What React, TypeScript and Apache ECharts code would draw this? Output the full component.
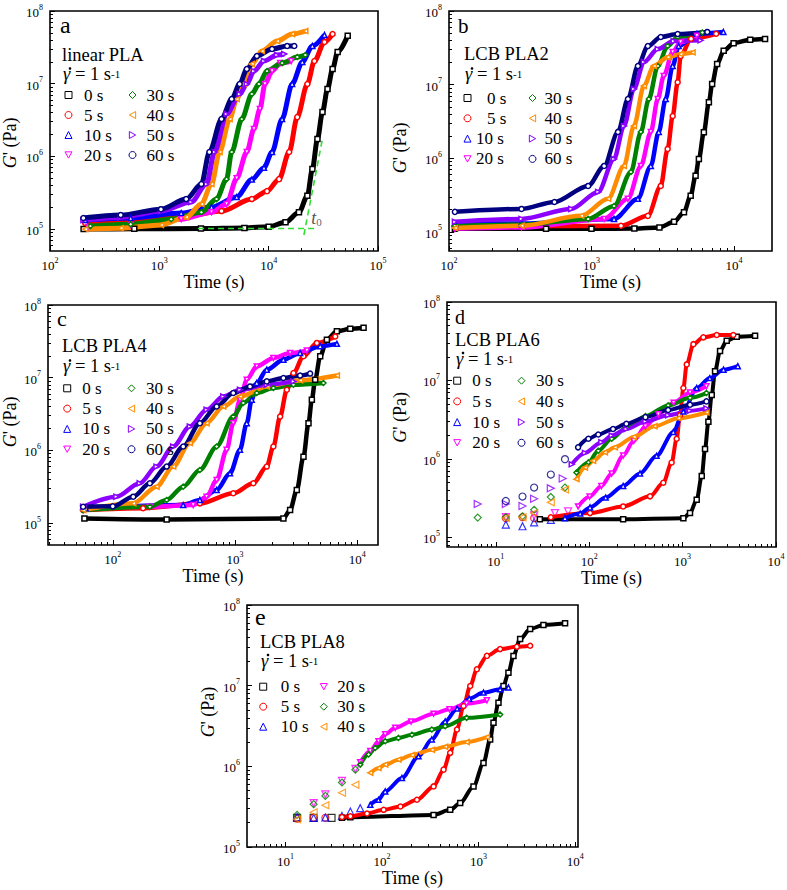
import React, { useEffect, useRef } from 'react';
import * as echarts from 'echarts';

type Pt = [number, number];

const FONT = '"Liberation Serif", "Times New Roman", "DejaVu Serif", serif';

// ---------- tick labels ----------
const xTicksA = [1e2, 1e3, 1e4, 1e5];
const xTicksB = [1e2, 1e3, 1e4];
const xTicksC = [1e2, 1e3, 1e4];
const xTicksD = [1e1, 1e2, 1e3, 1e4];
const xTicksE = [1e1, 1e2, 1e3, 1e4];
const yTicks = [1e5, 1e6, 1e7, 1e8];

// ---------- legend entries ----------
const pauseNames = ['0 s', '5 s', '10 s', '20 s', '30 s', '40 s', '50 s', '60 s'];
const pauseNamesE = ['0 s', '5 s', '10 s', '20 s', '30 s', '40 s'];

// ---------- panel a: linear PLA ----------
const a00: Pt[] = [[203,1.0e5],[590,1.01e5],[2400,1.02e5],[6000,1.04e5],[10000,1.08e5],[14260,1.24e5],[18920,1.7e5],[22600,2.87e5],[25120,6.7e5],[27930,1.73e6],[31060,4.07e6],[34530,8.45e6],[38430,1.59e7],[42740,2.73e7],[52840,4.57e7]];
const a05: Pt[] = [[210,1.21e5],[547,1.33e5],[1585,1.46e5],[3705,1.77e5],[7015,2.59e5],[9660,3.33e5],[12450,4.87e5],[15400,1.15e6],[18270,3.47e6],[22590,9.9e6],[26200,2.05e7],[32400,3.74e7],[38430,4.82e7]];
const a10: Pt[] = [[210,1.33e5],[547,1.42e5],[1585,1.66e5],[3000,2.01e5],[5100,2.76e5],[7015,4.8e5],[9060,7.0e5],[10740,1.15e6],[13270,3.26e6],[16400,9.9e6],[20320,1.99e7],[25120,3.3e7],[32400,4.68e7]];
const a20: Pt[] = [[224,1.07e5],[547,1.14e5],[1585,1.37e5],[3000,1.71e5],[4120,2.21e5],[5100,5.0e5],[6310,1.15e6],[7330,2.38e6],[8320,4.48e6],[9250,9.9e6],[10740,1.49e7],[12740,1.92e7],[16080,2.05e7]];
const a30: Pt[] = [[234,1.1e5],[547,1.17e5],[1283,1.37e5],[2425,1.71e5],[3335,2.59e5],[4120,4.87e5],[4590,1.15e6],[5675,3.26e6],[7015,7.2e6],[8150,9.9e6],[9660,1.49e7],[13270,1.92e7],[18270,2.33e7],[21630,2.48e7]];
const a40: Pt[] = [[210,1.0e5],[443,1.03e5],[1035,1.14e5],[1762,1.46e5],[2425,2.21e5],[3000,4.16e5],[3560,1.15e6],[4400,3.26e6],[5100,6.15e6],[5915,9.9e6],[7015,1.87e7],[8670,2.81e7],[11940,3.86e7],[16400,4.82e7],[21630,5.3e7]];
const a50: Pt[] = [[202,1.33e5],[443,1.46e5],[1035,1.77e5],[1960,2.36e5],[2700,4.16e5],[3200,1.15e6],[4120,3.83e6],[5430,7.2e6],[6310,9.9e6],[7330,1.49e7],[9060,2.05e7],[11940,2.48e7],[13870,2.56e7]];
const a60: Pt[] = [[202,1.42e5],[443,1.56e5],[1035,1.88e5],[1762,2.59e5],[2425,4.16e5],[2870,1.15e6],[3705,3.26e6],[4590,6.15e6],[5430,9.9e6],[6310,1.59e7],[7800,2.4e7],[10740,3.0e7],[14760,3.3e7],[17150,3.3e7]];
const aTangentBase: Pt[] = [[2260,1.02e5],[26500,1.02e5]];
const aTangentRise: Pt[] = [[21000,8.3e4],[31000,1.73e6]];
const aOnset: Pt = [24500, 1.46e5];

// ---------- panel b: LCB PLA2 ----------
const b00: Pt[] = [[110,1.1e5],[480,1.1e5],[1000,1.1e5],[2000,1.11e5],[3000,1.15e5],[3800,1.37e5],[4460,1.85e5],[4970,3.1e5],[5380,5.8e5],[5675,9.8e5],[6150,2.25e6],[6670,5.75e6],[7030,1.02e7],[7620,1.9e7],[8475,2.88e7],[9950,3.66e7],[13000,4.07e7],[16540,4.16e7]];
const b05: Pt[] = [[110,1.2e5],[323,1.2e5],[1611,1.21e5],[2488,1.65e5],[3065,4.21e5],[3425,1.34e6],[3715,3.75e6],[4027,1.08e7],[4225,2.44e7],[5000,4.2e7],[7500,4.9e7]];
const b10: Pt[] = [[110,1.3e5],[323,1.3e5],[1440,1.5e5],[2118,2.81e5],[2610,7.87e5],[2967,2.28e6],[3320,6.38e6],[3715,1.79e7],[4093,3.34e7],[5500,4.9e7],[8435,5.18e7]];
const b20: Pt[] = [[110,1.1e5],[323,1.15e5],[1227,1.5e5],[1803,2.81e5],[2222,7.87e5],[2610,2.28e6],[2920,6.38e6],[3215,1.31e7],[3715,2.77e7],[4225,3.78e7],[5500,4.6e7]];
const b30: Pt[] = [[110,1.2e5],[323,1.25e5],[948,1.5e5],[1440,2.25e5],[1892,6.52e5],[2222,2.28e6],[2528,6.38e6],[2920,1.79e7],[3425,3.34e7],[4027,4.43e7],[6000,5.1e7]];
const b40: Pt[] = [[110,1.13e5],[323,1.21e5],[847,1.65e5],[1309,2.81e5],[1690,7.87e5],[1986,2.74e6],[2333,9.57e6],[2740,1.79e7],[3425,2.36e7],[4225,2.6e7],[5125,2.74e7]];
const b50: Pt[] = [[110,1.37e5],[323,1.5e5],[721,2.05e5],[1114,3.49e5],[1440,9.78e5],[1690,2.74e6],[1986,8.71e6],[2333,2.03e7],[2920,3.04e7],[3775,3.9e7],[5833,4.0e7]];
const b60: Pt[] = [[110,1.87e5],[323,2.05e5],[550,2.55e5],[948,4.21e5],[1227,7.87e5],[1535,2.28e6],[1803,6.38e6],[2118,1.79e7],[2488,3.34e7],[3065,4.43e7],[4027,4.86e7],[6500,5.2e7]];

// ---------- panel c: LCB PLA4 ----------
const c00: Pt[] = [[58.6,1.16e5],[276,1.12e5],[2490,1.16e5],[2825,1.51e5],[3205,2.85e5],[3635,8.2e5],[3995,2.37e6],[4255,4.97e6],[4530,9.4e6],[4980,1.97e7],[5650,3.34e7],[6820,4.35e7],[8770,4.7e7],[11280,4.85e7]];
const c05: Pt[] = [[57.2,1.51e5],[177,1.6e5],[516,1.87e5],[968,2.57e5],[1413,3.53e5],[1820,5.99e5],[2062,1.13e6],[2340,2.92e6],[2655,6.82e6],[3010,1.16e7],[3635,1.97e7],[4675,3.01e7],[6610,3.7e7]];
const c10: Pt[] = [[60,1.6e5],[377,1.77e5],[516,2.08e5],[708,2.85e5],[910,4.84e5],[1099,1.02e6],[1248,2.37e6],[1371,4.97e6],[1507,8.45e6],[1820,1.29e7],[2490,1.77e7],[3410,2.19e7],[4980,2.71e7],[6820,2.92e7]];
const c20: Pt[] = [[57.2,1.6e5],[201,1.68e5],[455,1.77e5],[586,2.31e5],[708,3.92e5],[855,1.02e6],[968,2.37e6],[1099,4.97e6],[1248,9.4e6],[1507,1.43e7],[2062,1.87e7],[2825,2.19e7],[3875,2.36e7]];
const c30: Pt[] = [[57.2,1.51e5],[201,1.68e5],[276,2.08e5],[377,3.17e5],[516,5.38e5],[708,1.13e6],[968,2.92e6],[1169,4.48e6],[1507,6.15e6],[2062,7.21e6],[3010,8.0e6],[5295,8.45e6]];
const c40: Pt[] = [[57.2,1.51e5],[147,1.87e5],[228,3.17e5],[312,5.99e5],[427,1.26e6],[586,2.37e6],[802,4.02e6],[1099,5.52e6],[1820,7.59e6],[3410,9.19e6],[6820,1.07e7]];
const c50: Pt[] = [[57.2,1.68e5],[107,2.31e5],[166,3.53e5],[228,5.99e5],[312,1.13e6],[427,2.13e6],[586,3.62e6],[802,5.52e6],[1099,6.82e6],[1820,8.0e6],[3010,8.9e6]];
const c60: Pt[] = [[57.2,1.68e5],[100,1.7e5],[147,2.31e5],[201,3.53e5],[276,5.99e5],[377,1.13e6],[516,2.37e6],[708,4.02e6],[968,6.15e6],[1327,7.59e6],[1820,8.9e6],[2490,9.9e6],[3410,1.07e7],[4120,1.14e7]];

// ---------- panel d: LCB PLA6 ----------
const d00: Pt[] = [[29.6,1.69e5],[231,1.69e5],[1019,1.75e5],[1200,2.03e5],[1416,3.01e5],[1603,6.03e5],[1738,1.33e6],[1888,2.96e6],[2050,6.53e6],[2225,1.31e7],[2517,2.38e7],[2967,3.2e7],[3800,3.61e7],[5970,3.71e7]];
const d05Early: Pt[] = [[12.8,1.75e5],[19.3,1.8e5],[25.7,1.75e5]];
const d05: Pt[] = [[38.8,1.8e5],[102,2.03e5],[231,2.47e5],[448,3.32e5],[621,4.95e5],[763,8.97e5],[864,1.8e6],[938,3.6e6],[1019,8.0e6],[1107,1.6e7],[1305,2.9e7],[1667,3.54e7],[2318,3.79e7],[3490,3.79e7]];
const d10Early: Pt[] = [[12.8,1.45e5],[19.3,1.38e5],[25.7,1.55e5],[38.8,1.66e5]];
const d10: Pt[] = [[55,1.75e5],[80,2.0e5],[102,2.4e5],[150,3.2e5],[231,4.5e5],[350,6.5e5],[526,1.09e6],[795,2.2e6],[1019,4.0e6],[1416,8.0e6],[1955,1.07e7],[2740,1.37e7],[3900,1.52e7]];
const d20Early: Pt[] = [[12.8,1.8e5],[25.7,1.9e5],[42.9,2.03e5],[59.4,2.13e5]];
const d20: Pt[] = [[76,2.47e5],[101,3.3e5],[135,4.5e5],[174,6.5e5],[231,1.1e6],[300,1.7e6],[400,2.6e6],[550,3.7e6],[800,5.2e6],[1200,7.0e6],[1800,8.4e6]];
const d30Early: Pt[] = [[6.4,1.78e5],[12.8,1.8e5],[19.3,1.85e5],[25.7,2.24e5],[38.8,3.26e5],[55,4.3e5]];
const d30: Pt[] = [[73,6.7e5],[98,9.0e5],[125,1.27e6],[174,1.8e6],[250,2.5e6],[400,3.5e6],[700,4.8e6],[1200,6.0e6],[1800,6.9e6]];
const d40Early: Pt[] = [[12.8,1.75e5],[19.3,1.8e5],[25.7,2.03e5],[38.8,2.78e5],[55,4.06e5]];
const d40: Pt[] = [[73,5.5e5],[90,7.75e5],[110,9.4e5],[147,1.21e6],[188,1.4e6],[300,1.9e6],[500,2.6e6],[900,3.3e6],[1800,3.9e6]];
const d50Early: Pt[] = [[6.4,2.65e5],[12.8,2.65e5],[19.3,2.5e5],[25.7,3.1e5],[38.8,4.2e5],[52,5.6e5]];
const d50: Pt[] = [[65,8.5e5],[90,1.19e6],[135,1.63e6],[174,1.98e6],[250,2.4e6],[400,3.0e6],[700,3.6e6],[1200,4.1e6],[1800,4.4e6]];
const d60Early: Pt[] = [[12.8,2.9e5],[19.3,3.3e5],[25.7,4.3e5],[38.8,6.3e5],[55,9.9e5]];
const d60: Pt[] = [[76,1.4e6],[98,1.8e6],[125,2.04e6],[180,2.4e6],[250,2.8e6],[400,3.4e6],[700,4.2e6],[1200,4.9e6],[1800,5.4e6]];

// ---------- panel e: LCB PLA8 ----------
const e00Early: Pt[] = [[13.2,2.3e5],[19.6,2.3e5],[30,2.3e5]];
const e00: Pt[] = [[38.5,2.3e5],[47,2.34e5],[342,2.5e5],[508,2.89e5],[645,3.5e5],[886,5.64e5],[1124,1.1e6],[1318,2.15e6],[1427,3.47e6],[1607,6.13e6],[1811,9.9e6],[2038,1.45e7],[2297,2.34e7],[2693,3.78e7],[3418,5.04e7],[4693,5.65e7],[7864,5.93e7]];
const e05Early: Pt[] = [[13.2,2.25e5],[19.6,2.3e5],[25.9,2.3e5]];
const e05: Pt[] = [[38.5,2.35e5],[47,2.4e5],[70,2.6e5],[104,2.89e5],[155,3.18e5],[230,3.85e5],[342,5.64e5],[434,9.1e5],[508,1.47e6],[597,2.86e6],[699,5.58e6],[819,9.9e6],[960,1.6e7],[1219,2.34e7],[1671,2.84e7],[2489,3.03e7],[3418,3.12e7]];
const e10Early: Pt[] = [[13.2,2.35e5],[19.6,2.3e5],[25.9,2.32e5],[38.5,2.43e5],[47,2.75e5],[59.5,3.03e5]];
const e10: Pt[] = [[75.6,3.33e5],[92,3.84e5],[108,4.89e5],[161,7.17e5],[239,1.33e6],[328,2.15e6],[451,3.6e6],[600,5.2e6],[800,6.9e6],[1124,8.2e6],[1671,9.0e6],[2038,9.5e6]];
const e20Early: Pt[] = [[19.6,3.5e5],[25.9,4.5e5],[38.5,6.6e5],[53,9.3e5]];
const e20: Pt[] = [[59.5,1.12e6],[75.6,1.55e6],[92,2.05e6],[108,2.5e6],[137,3.0e6],[200,3.6e6],[342,4.5e6],[500,5.1e6],[752,6.0e6],[1219,6.6e6]];
const e30Early: Pt[] = [[13.2,2.5e5],[19.6,3.4e5],[25.9,4.3e5],[38.5,6.3e5],[53,9.1e5]];
const e30: Pt[] = [[59.5,1.05e6],[72.6,1.4e6],[85,1.69e6],[108,2.05e6],[148,2.25e6],[204,2.46e6],[328,2.86e6],[451,3.14e6],[752,3.99e6],[1671,4.4e6]];
const e40Early: Pt[] = [[13.2,2.2e5],[19.6,2.7e5],[25.9,3.3e5],[38.5,4.7e5],[53,5.9e5]];
const e40: Pt[] = [[75.6,8.3e5],[92,9.5e5],[108,1.05e6],[148,1.21e6],[204,1.38e6],[328,1.6e6],[451,1.75e6],[752,2.0e6],[1219,2.3e6]];

// ---------- styling ----------
const STYLE: Record<string, { color: string; symbol: string }> = {
  '0 s': { color: '#000000', symbol: 'rect' },
  '5 s': { color: '#ff0000', symbol: 'circle' },
  '10 s': { color: '#0000ff', symbol: 'triangle' },
  '20 s': { color: '#ff00ff', symbol: 'path://M0,0L10,0L5,9Z' },
  '30 s': { color: '#008000', symbol: 'diamond' },
  '40 s': { color: '#ff8c00', symbol: 'path://M0,5L9,0L9,10Z' },
  '50 s': { color: '#8b00ff', symbol: 'path://M9,5L0,0L0,10Z' },
  '60 s': { color: '#000080', symbol: 'circle' },
};

interface Curve { name: string; main: Pt[]; early?: Pt[] }
interface LegendCol { left: number; pad: number; names: string[]; indent?: string[] }
interface Panel {
  letter: string; letterSize: number; letterPos: [number, number];
  sample: string; samplePos: [number, number]; ratePos: [number, number];
  grid: { left: number; top: number; width: number; height: number };
  xRange: [number, number]; yRange: [number, number]; xTicks: number[];
  xNameGap: number; yNameGap: number; yNamePad: number[];
  lineWidth: number; curves: Curve[];
  legendTop: number; legendGap: number; legendCols: LegendCol[];
}

const panels: Panel[] = [
  {
    letter: 'a', letterSize: 24, letterPos: [60, 25], sample: 'linear PLA', samplePos: [62, 55], ratePos: [63, 76],
    grid: { left: 50, top: 11, width: 328, height: 240 }, xRange: [100, 1e5], yRange: [5e4, 1e8], xTicks: xTicksA,
    xNameGap: 15, yNameGap: 31, yNamePad: [0, 24, 0, 0], lineWidth: 5,
    curves: [
      { name: '0 s', main: a00 }, { name: '5 s', main: a05 }, { name: '10 s', main: a10 }, { name: '20 s', main: a20 },
      { name: '30 s', main: a30 }, { name: '40 s', main: a40 }, { name: '50 s', main: a50 }, { name: '60 s', main: a60 },
    ],
    legendTop: 86.5, legendGap: 3,
    legendCols: [{ left: 64.5, pad: 7, names: pauseNames.slice(0, 4) }, { left: 128.5, pad: 5.5, names: pauseNames.slice(4) }],
  },
  {
    letter: 'b', letterSize: 21, letterPos: [458, 26], sample: 'LCB PLA2', samplePos: [464, 54], ratePos: [465, 76],
    grid: { left: 449, top: 11, width: 323, height: 240 }, xRange: [100, 18500], yRange: [5.5e4, 1e8], xTicks: xTicksB,
    xNameGap: 18, yNameGap: 40, yNamePad: [0, 34, 0, 0], lineWidth: 4.5,
    curves: [
      { name: '0 s', main: b00 }, { name: '5 s', main: b05 }, { name: '10 s', main: b10 }, { name: '20 s', main: b20 },
      { name: '30 s', main: b30 }, { name: '40 s', main: b40 }, { name: '50 s', main: b50 }, { name: '60 s', main: b60 },
    ],
    legendTop: 89.5, legendGap: 3.3,
    legendCols: [{ left: 463.5, pad: 0, names: pauseNames.slice(0, 4), indent: ['0 s', '5 s'] }, { left: 528.5, pad: 3.5, names: pauseNames.slice(4) }],
  },
  {
    letter: 'c', letterSize: 22, letterPos: [57, 318], sample: 'LCB PLA4', samplePos: [62, 346], ratePos: [63, 368],
    grid: { left: 48, top: 305, width: 330, height: 240 }, xRange: [29.5, 14800], yRange: [5e4, 1e8], xTicks: xTicksC,
    xNameGap: 16, yNameGap: 29, yNamePad: [0, 0, 0, 6], lineWidth: 4.5,
    curves: [
      { name: '0 s', main: c00 }, { name: '5 s', main: c05 }, { name: '10 s', main: c10 }, { name: '20 s', main: c20 },
      { name: '30 s', main: c30 }, { name: '40 s', main: c40 }, { name: '50 s', main: c50 }, { name: '60 s', main: c60 },
    ],
    legendTop: 379.8, legendGap: 3.3,
    legendCols: [{ left: 63.2, pad: 6.5, names: pauseNames.slice(0, 4) }, { left: 127.5, pad: 6, names: pauseNames.slice(4) }],
  },
  {
    letter: 'd', letterSize: 20, letterPos: [455, 317], sample: 'LCB PLA6', samplePos: [455, 339.5], ratePos: [456, 360.5],
    grid: { left: 447, top: 302, width: 329, height: 245 }, xRange: [3, 1e4], yRange: [7.5e4, 1e8], xTicks: xTicksD,
    xNameGap: 18, yNameGap: 38, yNamePad: [0, 0, 0, 14], lineWidth: 4,
    curves: [
      { name: '0 s', main: d00 }, { name: '5 s', main: d05, early: d05Early }, { name: '10 s', main: d10, early: d10Early },
      { name: '20 s', main: d20, early: d20Early }, { name: '30 s', main: d30, early: d30Early },
      { name: '40 s', main: d40, early: d40Early }, { name: '50 s', main: d50, early: d50Early }, { name: '60 s', main: d60, early: d60Early },
    ],
    legendTop: 372.2, legendGap: 3.7,
    legendCols: [{ left: 453.2, pad: 6.5, names: pauseNames.slice(0, 4) }, { left: 517.5, pad: 6, names: pauseNames.slice(4) }],
  },
  {
    letter: 'e', letterSize: 24, letterPos: [255, 617], sample: 'LCB PLA8', samplePos: [260, 641.5], ratePos: [261, 662.5],
    grid: { left: 247, top: 605, width: 331, height: 242 }, xRange: [4, 10700], yRange: [1e5, 1e8], xTicks: xTicksE,
    xNameGap: 17, yNameGap: 30, yNamePad: [0, 0, 0, 28], lineWidth: 4,
    curves: [
      { name: '0 s', main: e00, early: e00Early }, { name: '5 s', main: e05, early: e05Early }, { name: '10 s', main: e10, early: e10Early },
      { name: '20 s', main: e20, early: e20Early }, { name: '30 s', main: e30, early: e30Early }, { name: '40 s', main: e40, early: e40Early },
    ],
    legendTop: 678.2, legendGap: 3,
    legendCols: [{ left: 259.2, pad: 9, names: pauseNamesE.slice(0, 3) }, { left: 319.8, pad: 5, names: pauseNamesE.slice(3) }],
  },
];

const minorTicks = (lo: number, hi: number) => {
  const out: number[] = [];
  for (let e = Math.floor(Math.log10(lo)); e <= Math.ceil(Math.log10(hi)); e++) {
    for (let m = 2; m < 10; m++) {
      const v = m * Math.pow(10, e);
      if (v > lo * 1.0001 && v < hi * 0.9999) out.push(v);
    }
  }
  return out;
};

const powLabel = (v: number) => {
  const e = Math.log10(v);
  const r = Math.round(e);
  return Math.abs(e - r) < 1e-6 ? `{b|10}{s|${r}}` : '';
};

const tickRich = {
  b: { fontFamily: FONT, fontSize: 13, lineHeight: 16, verticalAlign: 'bottom', color: '#000' },
  s: { fontFamily: FONT, fontSize: 8, lineHeight: 6, verticalAlign: 'top', color: '#000' },
};

function buildOption() {
  const grid: any[] = [];
  const xAxis: any[] = [];
  const yAxis: any[] = [];
  const series: any[] = [];
  const legend: any[] = [];
  const graphic: any[] = [];

  panels.forEach((p, i) => {
    grid.push({ ...p.grid, show: true, borderColor: '#000', borderWidth: 1.6, backgroundColor: 'rgba(0,0,0,0)', containLabel: false, outerBoundsMode: 'none' });
    const base = (range: [number, number]) => ({
      type: 'log', logBase: 10, gridIndex: i, min: range[0], max: range[1],
      splitLine: { show: false }, axisLine: { show: false },
    });
    xAxis.push({
      ...base(p.xRange), position: 'bottom',
      axisTick: { show: true, inside: true, length: 5, lineStyle: { color: '#000', width: 1 }, customValues: p.xTicks },
      axisLabel: { show: true, margin: 5, customValues: p.xTicks, formatter: powLabel, rich: tickRich, color: '#000', fontFamily: FONT, fontSize: 13, showMinLabel: true, showMaxLabel: true },
      name: 'Time (s)', nameLocation: 'middle', nameGap: p.xNameGap,
      nameTextStyle: { fontFamily: FONT, fontSize: 18, color: '#000', verticalAlign: 'top' },
    });
    xAxis.push({
      ...base(p.xRange), position: 'bottom',
      axisTick: { show: true, inside: true, length: 3, lineStyle: { color: '#000', width: 1 }, customValues: minorTicks(p.xRange[0], p.xRange[1]) },
      axisLabel: { show: false },
    });
    yAxis.push({
      ...base(p.yRange), position: 'left',
      axisTick: { show: true, inside: true, length: 5, lineStyle: { color: '#000', width: 1 }, customValues: yTicks },
      axisLabel: { show: true, margin: 7, customValues: yTicks, formatter: powLabel, rich: tickRich, color: '#000', fontFamily: FONT, fontSize: 13, showMinLabel: true, showMaxLabel: true },
      name: "{i|G}{n|' (Pa)}", nameLocation: 'middle', nameGap: p.yNameGap, nameRotate: 90,
      nameTextStyle: {
        fontFamily: FONT, fontSize: 18, color: '#000', padding: p.yNamePad, lineHeight: 18,
        rich: {
          i: { fontFamily: FONT, fontSize: 18, lineHeight: 18, fontStyle: 'italic', color: '#000' },
          n: { fontFamily: FONT, fontSize: 18, lineHeight: 18, color: '#000' },
        },
      },
    });
    yAxis.push({
      ...base(p.yRange), position: 'left',
      axisTick: { show: true, inside: true, length: 3, lineStyle: { color: '#000', width: 1 }, customValues: minorTicks(p.yRange[0], p.yRange[1]) },
      axisLabel: { show: false },
    });

    p.curves.forEach((c) => {
      const st = STYLE[c.name];
      if (c.early) {
        series.push({
          type: 'scatter', name: c.name, xAxisIndex: 2 * i, yAxisIndex: 2 * i, data: c.early,
          symbol: st.symbol, symbolSize: 7, silent: true,
          itemStyle: { color: 'rgba(255,255,255,0)', borderColor: st.color, borderWidth: 1.2 },
          emphasis: { disabled: true },
        });
      }
      series.push({
        type: 'line', name: c.name, xAxisIndex: 2 * i, yAxisIndex: 2 * i, data: c.main,
        smooth: 0.3, smoothMonotone: 'x', symbol: st.symbol, symbolSize: 5, showSymbol: true, showAllSymbol: true,
        lineStyle: { color: st.color, width: p.lineWidth }, silent: true,
        itemStyle: { color: '#ffffff', borderColor: st.color, borderWidth: 1.5 },
        emphasis: { disabled: true },
      });
    });

    p.legendCols.forEach((col) => {
      legend.push({
        show: true, orient: 'vertical', left: col.left, top: p.legendTop, padding: 0, itemGap: p.legendGap,
        itemWidth: 7, itemHeight: 7, selectedMode: false,
        textStyle: { fontFamily: FONT, fontSize: 17, color: '#000', lineHeight: 17, padding: [0, 0, 0, col.pad] },
        data: col.names.map((n) => ({
          name: n, icon: STYLE[n].symbol,
          itemStyle: { color: '#ffffff', borderColor: STYLE[n].color, borderWidth: 1 },
          ...(col.indent && col.indent.includes(n) ? { textStyle: { padding: [0, 0, 0, col.pad + 11] } } : {}),
        })),
      });
    });

    graphic.push({
      type: 'text', x: p.letterPos[0], y: p.letterPos[1], silent: true,
      style: { text: p.letter, fontFamily: FONT, fontSize: p.letterSize, lineHeight: 18, fill: '#000', verticalAlign: 'middle', align: 'left' },
    });
    graphic.push({
      type: 'text', x: p.samplePos[0], y: p.samplePos[1], silent: true,
      style: { text: p.sample, fontFamily: FONT, fontSize: 18.5, lineHeight: 15, fill: '#000', verticalAlign: 'middle', align: 'left' },
    });
    graphic.push({
      type: 'text', x: p.ratePos[0], y: p.ratePos[1], silent: true,
      style: {
        text: '{g|\u03b3}{n| = 1 s}{s|-1}', verticalAlign: 'middle', align: 'left', fill: '#000',
        rich: {
          g: { fontFamily: FONT, fontSize: 18.5, fontStyle: 'italic', lineHeight: 15, verticalAlign: 'bottom', fill: '#000' },
          n: { fontFamily: FONT, fontSize: 18.5, lineHeight: 15, verticalAlign: 'bottom', fill: '#000' },
          s: { fontFamily: FONT, fontSize: 11, lineHeight: 3, verticalAlign: 'top', fill: '#000' },
        },
      },
    });
    // overdot of the shear-rate symbol (gamma-dot)
    graphic.push({
      type: 'circle', silent: true,
      shape: { cx: p.ratePos[0] + 7, cy: p.ratePos[1] - 7.5, r: 1.3 },
      style: { fill: '#000' },
    });
  });

  // tangent construction for onset time in panel a
  series.push({
    type: 'line', name: 'baseline', xAxisIndex: 0, yAxisIndex: 0, data: aTangentBase, symbol: 'none', silent: true,
    lineStyle: { color: '#33dd33', width: 1.6, type: [6, 4] }, z: 5,
  });
  series.push({
    type: 'line', name: 'rise', xAxisIndex: 0, yAxisIndex: 0, data: aTangentRise, symbol: 'none', silent: true,
    lineStyle: { color: '#33dd33', width: 1.6, type: [6, 4] }, z: 5,
  });
  series.push({
    type: 'scatter', name: 'onset', xAxisIndex: 0, yAxisIndex: 0, data: [aOnset], symbolSize: 0, silent: true, z: 6,
    label: {
      show: true, position: 'right', distance: 0, formatter: '{i|t}{s|0}',
      rich: {
        i: { fontFamily: FONT, fontSize: 18, fontStyle: 'italic', lineHeight: 20, verticalAlign: 'bottom', color: '#222' },
        s: { fontFamily: FONT, fontSize: 11, lineHeight: 11, verticalAlign: 'bottom', color: '#334' },
      },
    },
  });

  return { animation: false, backgroundColor: '#ffffff', grid, xAxis, yAxis, series, legend, graphic };
}

export default function App() {
  const ref = useRef<HTMLDivElement>(null);
  useEffect(() => {
    if (!ref.current) return;
    const chart = echarts.init(ref.current, null, { renderer: 'svg' });
    chart.setOption(buildOption() as any);
    return () => chart.dispose();
  }, []);
  return <div ref={ref} style={{ position: 'absolute', left: 0, top: 0, width: 787, height: 890, background: '#fff' }} />;
}
